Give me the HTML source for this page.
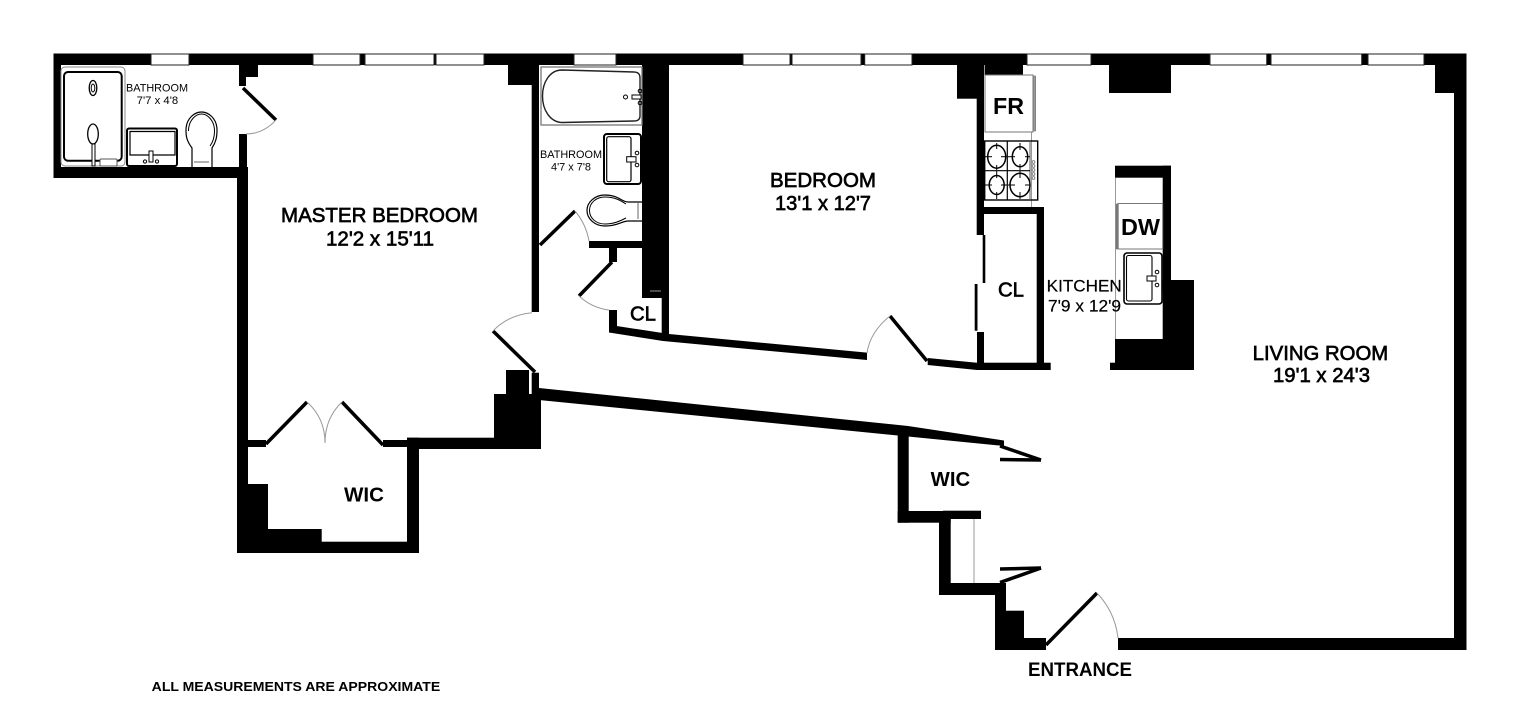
<!DOCTYPE html>
<html>
<head>
<meta charset="utf-8">
<style>
html,body{margin:0;padding:0;background:#fff;}
svg{display:block;}
text{font-family:"Liberation Sans",sans-serif;fill:#000;}
.s{stroke:#000;stroke-width:.65;}
.t{stroke:#000;stroke-width:.2;}
.b{font-weight:bold;}
</style>
</head>
<body>
<svg width="1536" height="719" viewBox="0 0 1536 719" xmlns="http://www.w3.org/2000/svg">
<rect width="1536" height="719" fill="#fff"/>

<!-- walls -->
<g fill="#000">
<rect x="53.5" y="53.5" width="1413" height="11.5"/>
<rect x="53.5" y="53.5" width="7.5" height="124.5"/>
<rect x="53.5" y="167" width="194.5" height="11"/>
<rect x="239" y="65" width="19" height="12"/>
<rect x="239" y="65" width="7" height="21"/>
<rect x="239" y="134" width="8" height="34"/>
<rect x="237" y="167" width="11" height="386"/>
<rect x="508" y="65" width="31" height="20"/>
<rect x="531.7" y="65" width="7.3" height="247"/>
<rect x="248" y="440" width="18" height="7"/>
<rect x="383" y="440" width="36" height="7"/>
<rect x="407" y="437.7" width="12" height="115.3"/>
<rect x="407" y="437.7" width="134" height="11.3"/>
<rect x="494" y="394" width="47" height="55"/>
<rect x="506" y="370" width="23" height="30"/>
<rect x="531.7" y="372.7" width="7.3" height="24"/>
<rect x="237" y="541.7" width="182" height="11.3"/>
<rect x="237" y="484" width="31" height="69"/>
<rect x="237" y="529" width="84.7" height="24"/>
<polygon points="539,388 908,426 1004,440.5 1004,446 908,436.5 539,400"/>
<rect x="897.7" y="427" width="11" height="95.7"/>
<rect x="897.7" y="511" width="53" height="11.7"/>
<rect x="943" y="510.7" width="38" height="8.3"/>
<rect x="939" y="511" width="11.7" height="84"/>
<rect x="939" y="583" width="67" height="12"/>
<rect x="995" y="583" width="11" height="67"/>
<rect x="995" y="610.7" width="29" height="39.3"/>
<rect x="995" y="638" width="51" height="12"/>
<rect x="1118" y="638" width="348.5" height="12"/>
<rect x="1454" y="53.5" width="12.5" height="596.5"/>
<rect x="1435" y="65" width="31.5" height="28"/>
<rect x="642" y="65" width="27" height="233"/>
<rect x="661.7" y="290" width="7.3" height="46"/>
<rect x="589" y="241" width="53" height="7"/>
<rect x="609" y="241" width="8" height="21"/>
<rect x="609" y="310" width="8" height="22"/>
<polygon points="609,325 616.7,326 669,334 867,352.6 867,360 663,341 609,332.5"/>
<rect x="957" y="65" width="27" height="33.7"/>
<rect x="976.7" y="65" width="7.3" height="170"/>
<rect x="984" y="65" width="39" height="10"/>
<rect x="984" y="207" width="60" height="7"/>
<rect x="1036.7" y="207" width="7.3" height="163"/>
<rect x="977" y="362.7" width="73.7" height="7.3"/>
<rect x="982.7" y="235" width="2.6" height="48"/>
<rect x="974.7" y="284" width="2.8" height="46.7"/>
<rect x="977" y="332" width="7" height="38"/>
<polygon points="927.7,358 977,362.7 977,370 927.7,365"/>
<rect x="1109" y="65" width="62" height="28"/>
<rect x="1115" y="165.7" width="56" height="12"/>
<rect x="1162.7" y="165.7" width="8.3" height="125"/>
<rect x="1162.7" y="280" width="31.3" height="90"/>
<rect x="1115" y="339" width="79" height="31"/>
<rect x="1110" y="362.7" width="10" height="7.3"/>
</g>

<!-- windows -->
<g fill="#fff" stroke="#222" stroke-width="1">
<rect x="151" y="54" width="38" height="11"/>
<rect x="313" y="54" width="47" height="11"/>
<rect x="365" y="54" width="69" height="11"/>
<rect x="436" y="54" width="48" height="11"/>
<rect x="574" y="54" width="42" height="11"/>
<rect x="743" y="54" width="47" height="11"/>
<rect x="792" y="54" width="69" height="11"/>
<rect x="864.7" y="54" width="47.3" height="11"/>
<rect x="1027" y="54" width="64" height="11"/>
<rect x="1210" y="54" width="56.7" height="11"/>
<rect x="1271" y="54" width="90.7" height="11"/>
<rect x="1368" y="54" width="56" height="11"/>
</g>

<!-- doors -->
<g stroke="#000" stroke-width="3.5" fill="none">
<line x1="243" y1="88" x2="276" y2="120"/>
<line x1="540" y1="245" x2="575" y2="211"/>
<line x1="612" y1="262" x2="579" y2="296"/>
<line x1="266" y1="444" x2="307" y2="402"/>
<line x1="342" y1="402" x2="383" y2="445"/>
<line x1="493" y1="331" x2="535" y2="372"/>
<line x1="890" y1="316" x2="927" y2="361"/>
<line x1="1046" y1="645" x2="1097" y2="593"/>
<line x1="1000" y1="446" x2="1041" y2="460"/>
<line x1="1000" y1="459.5" x2="1041" y2="460"/>
<line x1="1000" y1="569" x2="1041" y2="568"/>
<line x1="1000" y1="582.5" x2="1041" y2="568"/>
</g>
<g stroke="#999" stroke-width="1" fill="none">
<path d="M276 120 Q263 134 246 134"/>
<path d="M575 211 Q586 224 589 241"/>
<path d="M579 296 Q592 308 609 310"/>
<path d="M307 402 Q325 418 325 443"/>
<path d="M342 402 Q325 418 325 443"/>
<path d="M493 331 Q508 315 532 312.7"/>
<path d="M890 316 Q870 332 867 353"/>
<path d="M1097 593 Q1115 612 1118 638"/>
<line x1="974" y1="519" x2="974" y2="583"/>
<line x1="1115.5" y1="178" x2="1115.5" y2="339"/>
<line x1="1031.5" y1="132" x2="1031.5" y2="207"/>
<line x1="984.5" y1="65" x2="984.5" y2="75"/>
<line x1="985" y1="132" x2="1033" y2="132"/>
<line x1="650" y1="291" x2="661" y2="291"/>
</g>

<!-- bathroom 1 -->
<g fill="none" stroke="#000">
<rect x="61" y="67" width="64" height="99" rx="4" stroke="#888" stroke-width="1"/>
<rect x="64" y="72" width="57.7" height="88.7" rx="4" stroke-width="2"/>
<ellipse cx="93" cy="88" rx="3.8" ry="7.5" stroke-width="1.3"/>
<ellipse cx="93" cy="88" rx="1.8" ry="4" stroke-width="1"/>
<ellipse cx="93" cy="134" rx="5.3" ry="10" fill="#fff" stroke-width="1.3"/>
<rect x="92" y="144" width="3" height="22" fill="#fff" stroke-width="1"/>
<rect x="100" y="159" width="17" height="7" rx="1" fill="#fff" stroke="#555" stroke-width="1"/>
<rect x="127" y="128.5" width="50" height="37.5" rx="2" stroke-width="2"/>
<path d="M130 131.5 H175 V155 H130 Z" stroke-width="1.2"/>
<rect x="149" y="151" width="4" height="11" fill="#fff" stroke-width="1"/>
<circle cx="145" cy="161.5" r="1.6" stroke-width="1"/>
<circle cx="157" cy="161.5" r="1.6" stroke-width="1"/>
<path d="M192 167 V148 C186 140 186 135 186 130 C186 118 195 112 201.5 112 C208 112 217 118 217 130 C217 137 216 142 212 148 V167" stroke-width="1.2"/>
<path d="M188.5 131 C188.5 120 196 114 201.5 114 C207 114 214.5 120 214.5 131 C214.5 137 213 142 210 146" stroke-width="1"/>
<line x1="194" y1="162" x2="209" y2="162" stroke="#666" stroke-width="1"/>
</g>

<!-- bathroom 2 -->
<g fill="none" stroke="#000">
<rect x="541" y="67" width="101" height="58" stroke="#777" stroke-width="1.3"/>
<path d="M562 70 L634 72 Q640 72 640 78 V116 Q640 121 634 121 L562 122.5 C550 122 542.5 110 542.5 96 C542.5 82 550 70 562 70 Z" stroke="#222" stroke-width="1.4"/>
<circle cx="625.5" cy="97" r="2" stroke-width="1"/>
<rect x="632" y="95" width="9" height="4" fill="#fff" stroke-width="1"/>
<circle cx="640" cy="91" r="1.8" stroke-width="1"/>
<circle cx="640" cy="103" r="1.8" stroke-width="1"/>
<rect x="604" y="134" width="37" height="50" rx="3" stroke-width="2"/>
<rect x="606.7" y="136.7" width="24.3" height="45" rx="2" stroke-width="1.2"/>
<rect x="626.7" y="156.7" width="9.3" height="5.3" fill="#fff" stroke-width="1"/>
<circle cx="637" cy="153" r="1.8" stroke-width="1"/>
<circle cx="637" cy="165" r="1.8" stroke-width="1"/>
<path d="M642 202 H628 C622 202 618 195 605 195 C595 195 587 202 587 210.5 C587 219 595 226 605 226 C618 226 622 221 628 221 H642" stroke-width="1.2"/>
<path d="M626 204 C620 200 614 197 605 197 C596 197 589.5 203 589.5 210.5 C589.5 218 596 224 605 224 C614 224 620 221 626 218" stroke-width="1"/>
<line x1="638" y1="203" x2="638" y2="219" stroke="#666" stroke-width="1"/>
</g>

<!-- kitchen -->
<g fill="none" stroke="#000">
<rect x="985" y="75" width="48" height="57" stroke="#777" stroke-width="1"/>
<rect x="1033.3" y="76" width="2.4" height="55" fill="#999" stroke="#777" stroke-width=".6"/>
<rect x="984.7" y="141" width="53" height="59" stroke-width="1.4"/>
<line x1="1007.3" y1="141" x2="1007.3" y2="200" stroke-width="1.2"/>
<line x1="1030" y1="141" x2="1030" y2="200" stroke="#555" stroke-width="1"/>
<line x1="985" y1="170.7" x2="1030" y2="170.7" stroke-width="1.2"/>
<ellipse cx="996.7" cy="156.7" rx="9" ry="11.5" stroke-width="1.5"/>
<ellipse cx="1020" cy="156.7" rx="7.7" ry="10" stroke-width="1.5"/>
<ellipse cx="996.7" cy="185" rx="7.5" ry="9.5" stroke-width="1.5"/>
<ellipse cx="1020" cy="185" rx="10" ry="11.7" stroke-width="1.5"/>
<g stroke-width="1">
<line x1="996.7" y1="143" x2="996.7" y2="149"/><line x1="996.7" y1="165" x2="996.7" y2="170"/>
<line x1="985" y1="156.7" x2="992" y2="156.7"/><line x1="1001" y1="156.7" x2="1007" y2="156.7"/>
<line x1="1020" y1="143" x2="1020" y2="150"/><line x1="1020" y1="164" x2="1020" y2="170"/>
<line x1="1008" y1="156.7" x2="1015" y2="156.7"/><line x1="1025" y1="156.7" x2="1030" y2="156.7"/>
<line x1="996.7" y1="171" x2="996.7" y2="178"/><line x1="996.7" y1="192" x2="996.7" y2="199"/>
<line x1="985" y1="185" x2="992" y2="185"/><line x1="1001" y1="185" x2="1007" y2="185"/>
<line x1="1020" y1="171" x2="1020" y2="178"/><line x1="1020" y1="192" x2="1020" y2="199"/>
<line x1="1008" y1="185" x2="1015" y2="185"/><line x1="1025" y1="185" x2="1030" y2="185"/>
</g>
<g stroke="#666" stroke-width=".8">
<circle cx="1033.5" cy="162" r="1.4"/><circle cx="1033.5" cy="166" r="1.4"/><circle cx="1033.5" cy="170" r="1.4"/><circle cx="1033.5" cy="174" r="1.4"/><circle cx="1033.5" cy="178" r="1.4"/>
</g>
<rect x="1118" y="203.5" width="44.7" height="45.5" stroke="#777" stroke-width="1"/>
<rect x="1116" y="204" width="2.4" height="45" fill="#777" stroke="#777" stroke-width=".5"/>
<rect x="1124" y="253" width="38" height="51" rx="3" stroke-width="1.6"/>
<rect x="1126.5" y="255.5" width="25.5" height="45.5" rx="2" stroke-width="1.1"/>
<rect x="1147" y="276" width="9" height="5" fill="#fff" stroke-width="1"/>
<circle cx="1157" cy="272" r="1.8" stroke-width="1"/>
<circle cx="1157" cy="285" r="1.8" stroke-width="1"/>
</g>

<!-- labels -->
<text class="s" x="281" y="222" font-size="20.5" textLength="197" lengthAdjust="spacingAndGlyphs">MASTER BEDROOM</text>
<text class="s" x="326" y="245.5" font-size="20.5" textLength="108" lengthAdjust="spacingAndGlyphs">12'2 x 15'11</text>
<text class="s" x="770" y="187" font-size="20.5" textLength="106" lengthAdjust="spacingAndGlyphs">BEDROOM</text>
<text class="s" x="775" y="210" font-size="20.5" textLength="96" lengthAdjust="spacingAndGlyphs">13'1 x 12'7</text>
<text class="s" x="1252.7" y="360" font-size="20" textLength="135.5" lengthAdjust="spacingAndGlyphs">LIVING ROOM</text>
<text class="s" x="1273" y="382" font-size="20" textLength="97" lengthAdjust="spacingAndGlyphs">19'1 x 24'3</text>
<text class="t" x="1046.7" y="291.7" font-size="16.5" textLength="75" lengthAdjust="spacingAndGlyphs">KITCHEN</text>
<text class="t" x="1048" y="311.7" font-size="16.5" textLength="73" lengthAdjust="spacingAndGlyphs">7'9 x 12'9</text>
<text class="s" x="998" y="296.7" font-size="20.5" textLength="26" lengthAdjust="spacingAndGlyphs">CL</text>
<text class="s" x="630" y="320.7" font-size="20" textLength="26" lengthAdjust="spacingAndGlyphs">CL</text>
<text class="b" x="993" y="114" font-size="23" textLength="31" lengthAdjust="spacingAndGlyphs">FR</text>
<text class="b" x="1121" y="235" font-size="23" textLength="39" lengthAdjust="spacingAndGlyphs">DW</text>
<text class="b" x="344" y="501.7" font-size="20" textLength="40" lengthAdjust="spacingAndGlyphs">WIC</text>
<text class="b" x="930.7" y="486" font-size="20" textLength="39.5" lengthAdjust="spacingAndGlyphs">WIC</text>
<text class="b" x="1028" y="676" font-size="19" textLength="104" lengthAdjust="spacingAndGlyphs">ENTRANCE</text>
<text class="b" x="151.7" y="691" font-size="12.5" textLength="288.5" lengthAdjust="spacingAndGlyphs">ALL MEASUREMENTS ARE APPROXIMATE</text>
<text x="126" y="91.7" font-size="11.3" textLength="62" lengthAdjust="spacingAndGlyphs">BATHROOM</text>
<text x="136.7" y="104" font-size="11.3" textLength="41.5" lengthAdjust="spacingAndGlyphs">7'7 x 4'8</text>
<text x="540" y="158" font-size="11.3" textLength="62" lengthAdjust="spacingAndGlyphs">BATHROOM</text>
<text x="551" y="170.7" font-size="11.3" textLength="40" lengthAdjust="spacingAndGlyphs">4'7 x 7'8</text>
</svg>
</body>
</html>
